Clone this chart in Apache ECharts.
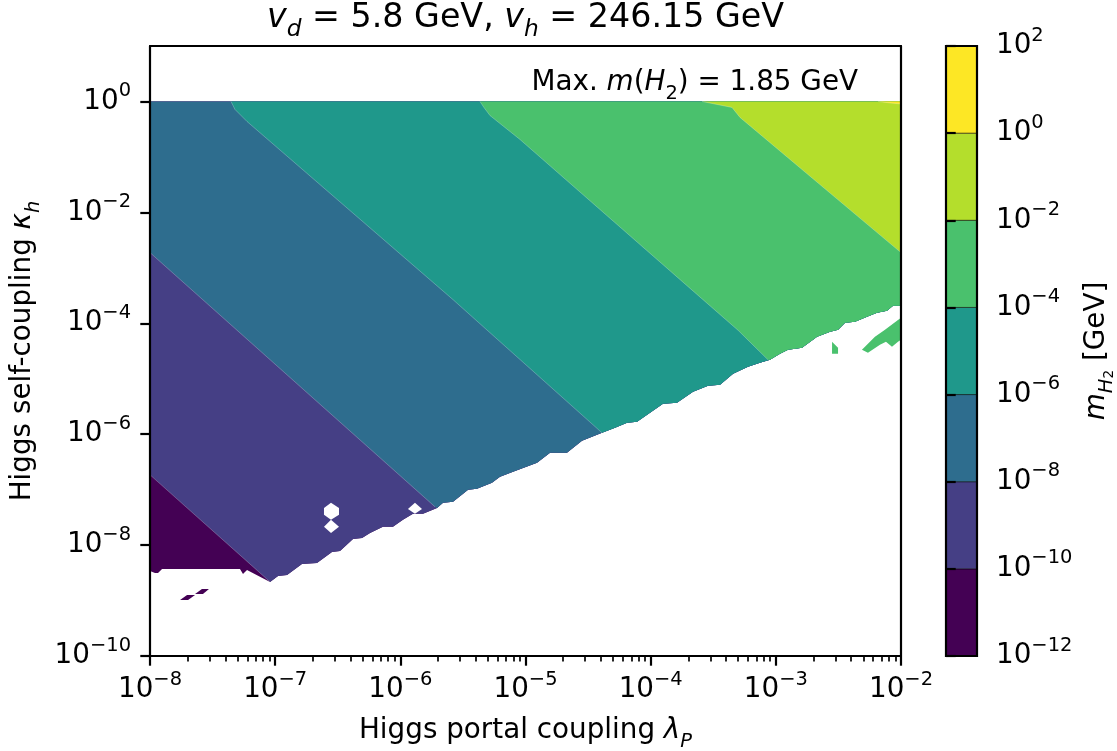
<!DOCTYPE html>
<html>
<head>
<meta charset="utf-8">
<title>Light scalar mass contours</title>
<script src="https://cdn.jsdelivr.net/npm/echarts@6/dist/echarts.min.js"></script>
<style>
html, body { margin: 0; padding: 0; background: #ffffff; }
#chart { width: 1117px; height: 751px; }
</style>
</head>
<body>
<div id="chart"></div>
<script>
// ---------------- data ----------------
// Filled contour levels of m_H2 [GeV], as powers of ten
const levelExps = [-12, -10, -8, -6, -4, -2, 0, 2];

// Major tick positions (powers of ten)
const xTickExps = [-8, -7, -6, -5, -4, -3, -2];
const yTickExps = [-10, -8, -6, -4, -2, 0];

// Iso-mass lines; every point is [log10 λP, log10 κh], running from the
// upper-left end down to where the line meets the lower edge of the region
const iso1e_10 = [[-8, -6.733], [-7.041, -8.664]];
const iso1e_8 = [[-8, -2.726], [-5.723, -7.310]];
const iso1e_6 = [[-7.353, 0], [-7.321, -0.144], [-7.225, -0.361], [-5.579, -3.574], [-4.389, -5.975]];
const iso1e_4 = [[-5.364, 0], [-5.332, -0.108], [-5.284, -0.253], [-5.044, -0.686], [-3.582, -3.574], [-3.300, -4.130], [-3.063, -4.657]];
const iso1e_2 = [[-3.590, 0], [-3.350, -0.108], [-3.286, -0.289], [-2, -2.726]];
const iso1e0 = [[-2.184, 0], [-2.088, -0.027], [-2, -0.045]];

// Lower edge of the region with a valid solution, [log10 λP, log10 κh]
const validEdge = [
  [-8, -8.466], [-7.960, -8.502], [-7.936, -8.502], [-7.904, -8.430], [-7.281, -8.430],
  [-7.257, -8.520], [-7.225, -8.448], [-7.041, -8.664], [-6.977, -8.556], [-6.905, -8.538],
  [-6.786, -8.339], [-6.666, -8.321], [-6.546, -8.123], [-6.482, -8.105], [-6.378, -7.888],
  [-6.306, -7.870], [-6.242, -7.780], [-6.139, -7.671], [-6.059, -7.671], [-5.979, -7.545],
  [-5.899, -7.437], [-5.819, -7.437], [-5.707, -7.329], [-5.659, -7.238], [-5.579, -7.220],
  [-5.459, -7.004], [-5.388, -6.986], [-5.268, -6.877], [-5.204, -6.769], [-5.100, -6.679],
  [-4.908, -6.516], [-4.804, -6.336], [-4.669, -6.336], [-4.549, -6.119], [-4.389, -5.975],
  [-4.285, -5.884], [-4.189, -5.794], [-4.109, -5.776], [-3.902, -5.451], [-3.790, -5.433],
  [-3.662, -5.235], [-3.542, -5.126], [-3.446, -5.108], [-3.342, -4.910], [-3.223, -4.783],
  [-3.127, -4.711], [-3.047, -4.657], [-2.967, -4.549], [-2.903, -4.477], [-2.791, -4.440],
  [-2.671, -4.242], [-2.567, -4.152], [-2.503, -4.116], [-2.447, -3.989], [-2.368, -3.971],
  [-2.272, -3.881], [-2.192, -3.809], [-2.112, -3.773], [-2.064, -3.682], [-2, -3.682]
];

// Grid cells without a solution inside the filled area
const gaps = [
  [[-6.554, -7.238], [-6.490, -7.329], [-6.490, -7.455], [-6.554, -7.545], [-6.610, -7.455], [-6.610, -7.329]],
  [[-6.554, -7.545], [-6.490, -7.671], [-6.554, -7.780], [-6.610, -7.671]],
  [[-5.883, -7.238], [-5.827, -7.347], [-5.883, -7.437], [-5.939, -7.347]]
];

// Isolated solutions below the lower edge
const specksLowest = [
  [[-7.760, -8.989], [-7.704, -8.899], [-7.640, -8.899], [-7.696, -8.989]],
  [[-7.640, -8.881], [-7.585, -8.791], [-7.529, -8.791], [-7.577, -8.881]]
];
const specksUpper = [
  [[-2.551, -4.332], [-2.503, -4.440], [-2.503, -4.549], [-2.551, -4.549]],
  [[-2.312, -4.477], [-2.264, -4.531], [-2.168, -4.386], [-2.120, -4.332], [-2.072, -4.422],
   [-2.024, -4.332], [-2, -4.296], [-2, -3.899], [-2.128, -4.116], [-2.208, -4.242]]
];

// ---------------- style ----------------
const bandColors = ['#440154', '#453f85', '#2e6d8e', '#1f988b', '#4ac16d', '#b4de2c', '#fde725'];
const FF = 'DejaVu Sans';
const FS = 27.8;
const MINUS = '\u2212';

const e2v = e => Math.pow(10, e);
const toVal = p => [e2v(p[0]), e2v(p[1])];
const expText = e => (e < 0 ? MINUS + (-e) : String(e));
const powLabel = v => '{b|10}{s|' + expText(Math.round(Math.log10(v))) + '}';
const powRich = {
  b: { fontFamily: FF, fontSize: FS, lineHeight: 40, color: '#000' },
  s: { fontFamily: FF, fontSize: FS * 0.7, lineHeight: 14, verticalAlign: 'top', color: '#000' }
};
const nameRich = {
  i: { fontFamily: FF, fontSize: FS, fontStyle: 'italic', lineHeight: 40, color: '#000' },
  sb: { fontFamily: FF, fontSize: FS * 0.7, fontStyle: 'italic', lineHeight: 26, verticalAlign: 'bottom', color: '#000' },
  su: { fontFamily: FF, fontSize: FS * 0.7, lineHeight: 26, verticalAlign: 'bottom', color: '#000' },
  ss: { fontFamily: FF, fontSize: FS * 0.49, lineHeight: 15, verticalAlign: 'bottom', color: '#000' },
  n: { fontFamily: FF, fontSize: FS, lineHeight: 40, color: '#000' }
};
const nameStyle = { fontFamily: FF, fontSize: FS, color: '#000', lineHeight: 40, rich: nameRich };

const xTickVals = xTickExps.map(e2v);
const yTickVals = yTickExps.map(e2v);
const cbTickVals = levelExps.map(e2v);
const xMinorVals = [];
for (let n = xTickExps[0]; n < xTickExps[xTickExps.length - 1]; n++) {
  for (let k = 2; k < 10; k++) xMinorVals.push(k * Math.pow(10, n));
}

// ---------------- filled regions ----------------
const isoLines = [iso1e_10, iso1e_8, iso1e_6, iso1e_4, iso1e_2, iso1e0];
const shapes = [];
// lowest band: the whole region that has a solution
shapes.push({ pts: [[-8, 0]].concat(validEdge, [[-2, 0]]), fill: bandColors[0] });
// each higher band paints everything above its iso-line
isoLines.forEach((line, k) => {
  const end = line[line.length - 1];
  const pts = line.concat(validEdge.filter(p => p[0] > end[0]), [[-2, 0]]);
  if (line[0][1] < 0) pts.push([-8, 0]);
  shapes.push({ pts, fill: bandColors[k + 1] });
});
specksLowest.forEach(s => shapes.push({ pts: s, fill: bandColors[0] }));
specksUpper.forEach(s => shapes.push({ pts: s, fill: bandColors[4] }));
gaps.forEach(s => shapes.push({ pts: s, fill: '#ffffff' }));
isoLines.forEach(line => shapes.push({ pts: line, line: true }));

const cbData = bandColors.map((c, i) => [0.5, cbTickVals[i], cbTickVals[i + 1]]);
cbData.push([0.5, cbTickVals[0], cbTickVals[cbTickVals.length - 1]]);

const axisLine = { show: true, lineStyle: { color: '#000', width: 2.2 } };
const noTick = { show: false };
const noLabel = { show: false };
const noSplit = { show: false };

const chart = echarts.init(document.getElementById('chart'), null, { renderer: 'canvas' });
chart.setOption({
  animation: false,
  backgroundColor: '#ffffff',
  textStyle: { fontFamily: FF },
  grid: [
    { left: 150, top: 46, width: 751, height: 610, containLabel: false, outerBoundsMode: 'none' },
    { left: 946, top: 46, width: 31, height: 610, containLabel: false, outerBoundsMode: 'none' }
  ],
  xAxis: [
    {
      gridIndex: 0, type: 'log', logBase: 10, min: 1e-8, max: 1e-2, position: 'bottom', z: 10,
      axisLine,
      axisTick: { show: true, length: 9.7, lineStyle: { color: '#000', width: 2.2 }, customValues: xTickVals },
      axisLabel: { customValues: xTickVals, formatter: powLabel, margin: 14, rich: powRich },
      splitLine: noSplit,
      name: 'Higgs portal coupling {i|λ}{sb|P}', nameLocation: 'middle', nameGap: 55,
      nameTextStyle: nameStyle
    },
    {
      gridIndex: 0, type: 'log', logBase: 10, min: 1e-8, max: 1e-2, position: 'bottom', z: 10,
      axisLine: { show: false },
      axisTick: { show: true, length: 5.5, lineStyle: { color: '#000', width: 1.7 }, customValues: xMinorVals },
      axisLabel: noLabel, splitLine: noSplit
    },
    {
      gridIndex: 0, type: 'log', logBase: 10, min: 1e-8, max: 1e-2, position: 'top', z: 10,
      axisLine, axisTick: noTick, axisLabel: noLabel, splitLine: noSplit
    },
    { gridIndex: 1, type: 'value', min: 0, max: 1, show: false }
  ],
  yAxis: [
    {
      gridIndex: 0, type: 'log', logBase: 10, min: 1e-10, max: 10, position: 'left', z: 10,
      axisLine,
      axisTick: { show: true, length: 9.7, lineStyle: { color: '#000', width: 2.2 }, customValues: yTickVals },
      axisLabel: { customValues: yTickVals, formatter: powLabel, margin: 19, rich: powRich },
      splitLine: noSplit,
      name: 'Higgs self-coupling {i|κ}{sb|h}', nameLocation: 'middle', nameRotate: 90, nameGap: 107,
      nameTextStyle: nameStyle
    },
    {
      gridIndex: 0, type: 'log', logBase: 10, min: 1e-10, max: 10, position: 'right', z: 10,
      axisLine, axisTick: noTick, axisLabel: noLabel, splitLine: noSplit
    },
    {
      gridIndex: 1, type: 'log', logBase: 10, min: 1e-12, max: 1e2, position: 'right', z: 10,
      axisLine: { show: false },
      axisTick: { show: true, length: 9.7, lineStyle: { color: '#000', width: 2.2 }, customValues: cbTickVals },
      axisLabel: { customValues: cbTickVals, formatter: powLabel, margin: 19, rich: powRich },
      splitLine: noSplit,
      name: '{i|m}{sb|H}{ss|2}{n| [GeV]}', nameLocation: 'middle', nameRotate: 90, nameGap: 93,
      nameTextStyle: nameStyle
    }
  ],
  series: [
    {
      type: 'custom', xAxisIndex: 0, yAxisIndex: 0, silent: true,
      data: shapes.map((s, i) => [1e-5, 1e-5, i]),
      encode: { x: 0, y: 1 },
      renderItem(params, api) {
        const s = shapes[params.dataIndex];
        const points = s.pts.map(p => api.coord(toVal(p)));
        if (s.line) {
          return { type: 'polyline', shape: { points }, style: { stroke: 'rgba(255,255,255,0.3)', lineWidth: 0.8, fill: null } };
        }
        return { type: 'polygon', shape: { points }, style: { fill: s.fill } };
      }
    },
    {
      type: 'custom', xAxisIndex: 3, yAxisIndex: 2, silent: true,
      data: cbData,
      encode: { x: 0, y: [1, 2] },
      renderItem(params, api) {
        const a = api.coord([0, api.value(2)]);
        const b = api.coord([1, api.value(1)]);
        const shape = { x: a[0], y: a[1], width: b[0] - a[0], height: b[1] - a[1] };
        if (params.dataIndex < bandColors.length) {
          return { type: 'rect', shape, style: { fill: bandColors[params.dataIndex], stroke: 'rgba(0,0,0,0.55)', lineWidth: 1 } };
        }
        return { type: 'rect', shape, style: { fill: null, stroke: '#000', lineWidth: 2.2 } };
      }
    }
  ],
  graphic: [
    {
      type: 'text', x: 525.5, y: 18, z: 20,
      style: {
        text: '{i|v}{sb|d}{n| = 5.8 GeV, }{i|v}{sb|h}{n| = 246.15 GeV}',
        align: 'center', verticalAlign: 'middle', fontFamily: FF, fontSize: 33.3,
        rich: {
          n: { fontFamily: FF, fontSize: 33.3, lineHeight: 46, fill: '#000' },
          i: { fontFamily: FF, fontSize: 33.3, fontStyle: 'italic', lineHeight: 46, fill: '#000' },
          sb: { fontFamily: FF, fontSize: 23.3, fontStyle: 'italic', lineHeight: 30, verticalAlign: 'bottom', fill: '#000' }
        }
      }
    },
    {
      type: 'text', x: 858, y: 83, z: 20,
      style: {
        text: '{n|Max. }{i|m}{n|(}{i|H}{su|2}{n|) = 1.85 GeV}',
        align: 'right', verticalAlign: 'middle', fontFamily: FF, fontSize: FS,
        rich: {
          n: { fontFamily: FF, fontSize: FS, lineHeight: 40, fill: '#000' },
          i: { fontFamily: FF, fontSize: FS, fontStyle: 'italic', lineHeight: 40, fill: '#000' },
          su: { fontFamily: FF, fontSize: FS * 0.7, lineHeight: 26, verticalAlign: 'bottom', fill: '#000' }
        }
      }
    }
  ]
});
</script>
</body>
</html>
